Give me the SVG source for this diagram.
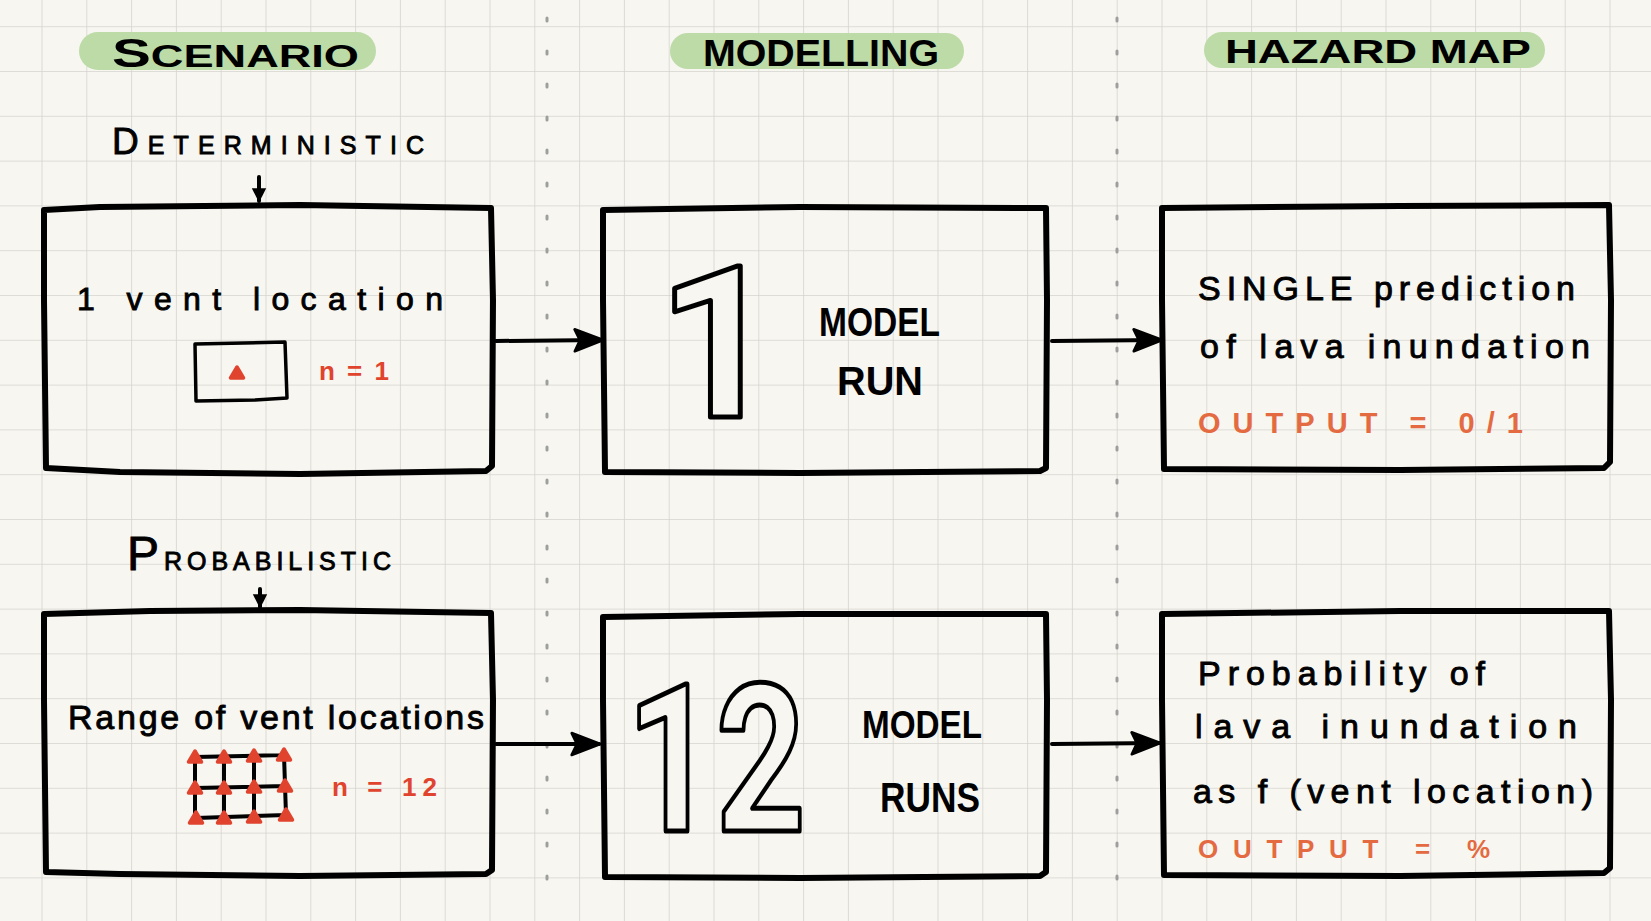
<svg xmlns="http://www.w3.org/2000/svg" width="1651" height="921" viewBox="0 0 1651 921">
<defs>
<pattern id="grid" patternUnits="userSpaceOnUse" x="41.5" y="26.2" width="44.8" height="44.8">
<path d="M0,0 H44.8 M0,0 V44.8" fill="none" stroke="#d6d4cd" stroke-width="1.6"/>
</pattern>
<marker id="ah" viewBox="0 0 12 10" refX="11" refY="5" markerWidth="8.5" markerHeight="6.5" orient="auto" markerUnits="strokeWidth">
<path d="M0.5,0.8 L11.5,5 L0.5,9.2 L2.5,5 Z" fill="#000" stroke="#000" stroke-width="1" stroke-linejoin="round"/>
</marker>
<marker id="ahs" viewBox="0 0 10 10" refX="8" refY="5" markerWidth="4" markerHeight="4" orient="auto" markerUnits="strokeWidth">
<path d="M0,0.5 L9,5 L0,9.5 Z" fill="#000"/>
</marker>
<path id="tri" d="M0,-6 L6.5,5 L-6.5,5 Z" fill="#e0442e" stroke="#e0442e" stroke-width="3.5" stroke-linejoin="round"/>
</defs>
<style>
.box{fill:none;stroke:#000;stroke-width:6;stroke-linejoin:round;stroke-linecap:round}
.hl{fill:#bcdba7}
.head{font-family:"Liberation Sans",Arial,sans-serif;font-weight:bold;fill:#000}
.hand{font-family:"Liberation Sans",Arial,sans-serif;fill:#000;stroke:#000;stroke-width:0.9}
.caps{font-family:"Liberation Sans",Arial,sans-serif;font-weight:bold;fill:#000}
.red{font-family:"Liberation Sans",Arial,sans-serif;font-weight:bold;fill:#e0442e}
.org{font-family:"Liberation Sans",Arial,sans-serif;font-weight:bold;fill:#e46a42}
.big{font-family:Roboto,"Liberation Sans",sans-serif;font-weight:bold;fill:#f7f6f1;stroke:#000;stroke-width:5;stroke-linejoin:round}
.conn{fill:none;stroke:#000;stroke-width:4;stroke-linecap:round}
.sep{fill:none;stroke:#9e9e9e;stroke-width:3;stroke-linecap:round;stroke-dasharray:3 30}
.mesh{fill:none;stroke:#000;stroke-width:4;stroke-linecap:round}
</style>
<rect width="1651" height="921" fill="#f7f6f1"/>
<rect width="1651" height="921" fill="url(#grid)"/>
<path class="sep" d="M547,18 V885"/>
<path class="sep" d="M1117,18 V885"/>

<g id="header-scenario">
<rect class="hl" x="79" y="32" width="297" height="38" rx="19"/>
<text class="head" x="112" y="67" font-size="31" textLength="247" lengthAdjust="spacingAndGlyphs"><tspan font-size="40">S</tspan>CENARIO</text>
</g>
<g id="header-modelling">
<rect class="hl" x="670" y="33" width="294" height="36" rx="18"/>
<text class="head" x="703" y="66" font-size="37" textLength="236" lengthAdjust="spacingAndGlyphs">MODELLING</text>
</g>
<g id="header-hazard">
<rect class="hl" x="1204" y="32" width="341" height="36" rx="18"/>
<text class="head" x="1225" y="63" font-size="34" textLength="306" lengthAdjust="spacingAndGlyphs">HAZARD MAP</text>
</g>

<g id="label-deterministic">
<text class="hand" x="112" y="154" font-size="25" textLength="312" lengthAdjust="spacing"><tspan font-size="37">D</tspan>ETERMINISTIC</text>
</g>
<g id="label-probabilistic">
<text class="hand" x="127" y="570" font-size="25" textLength="264" lengthAdjust="spacing"><tspan font-size="48">P</tspan>ROBABILISTIC</text>
</g>

<g id="connectors">
<path class="conn" d="M259,177 V201" marker-end="url(#ahs)"/>
<path class="conn" d="M260,589 V607" marker-end="url(#ahs)"/>
<path class="conn" d="M496,341 L602,340" marker-end="url(#ah)"/>
<path class="conn" d="M1052,341 L1161,340" marker-end="url(#ah)"/>
<path class="conn" d="M496,744 L599,744" marker-end="url(#ah)"/>
<path class="conn" d="M1052,744 L1159,743" marker-end="url(#ah)"/>
</g>

<g id="box-deterministic">
<path class="box" d="M44,210 L100,207 L300,205 L491,208 L493,300 L492,466 L486,471 L300,474 L120,472 L46,468 L44,300 Z"/>
<text class="hand" x="77" y="310" font-size="32" textLength="366" lengthAdjust="spacing">1 vent location</text>
<path d="M195,344 L285,342 L287,398 L255,400 L196,401 Z" fill="none" stroke="#000" stroke-width="3.5" stroke-linejoin="round"/>
<use href="#tri" x="237" y="373"/>
<text class="red" x="319" y="380" font-size="26" textLength="70" lengthAdjust="spacing">n=1</text>
</g>

<g id="box-model-run">
<path class="box" d="M603,210 L800,207 L1046,208 L1047,300 L1046,468 L1040,471 L800,473 L605,472 L603,300 Z"/>
<text class="big" x="718" y="417" font-size="212" text-anchor="middle">1</text>
<text class="caps" x="819" y="336" font-size="40" textLength="121" lengthAdjust="spacingAndGlyphs">MODEL</text>
<text class="caps" x="837" y="395" font-size="40" textLength="86" lengthAdjust="spacingAndGlyphs">RUN</text>
</g>

<g id="box-single">
<path class="box" d="M1162,208 L1400,206 L1609,205 L1611,300 L1610,462 L1604,468 L1400,470 L1164,469 L1162,300 Z"/>
<text class="hand" x="1198" y="300" font-size="34" textLength="377" lengthAdjust="spacing">SINGLE prediction</text>
<text class="hand" x="1200" y="358" font-size="34" textLength="390" lengthAdjust="spacing">of lava inundation</text>
<text class="org" x="1198" y="433" font-size="29" textLength="325" lengthAdjust="spacing">OUTPUT = 0/1</text>
</g>

<g id="box-probabilistic">
<path class="box" d="M44,614 L150,611 L300,610 L491,613 L493,700 L492,870 L486,874 L300,876 L120,874 L46,872 L44,700 Z"/>
<text class="hand" x="68" y="729" font-size="34" textLength="416" lengthAdjust="spacing">Range of vent locations</text>
<path class="mesh" d="M195,757 L284,755 M195,788 L285,786 M196,818 L286,815 M195,757 V818 M224,757 V818 M254,756 V817 M284,755 L286,815"/>
<use href="#tri" x="195" y="757"/>
<use href="#tri" x="224" y="757"/>
<use href="#tri" x="254" y="756"/>
<use href="#tri" x="284" y="755"/>
<use href="#tri" x="195" y="788"/>
<use href="#tri" x="224" y="788"/>
<use href="#tri" x="254" y="787"/>
<use href="#tri" x="285" y="786"/>
<use href="#tri" x="196" y="818"/>
<use href="#tri" x="224" y="818"/>
<use href="#tri" x="254" y="817"/>
<use href="#tri" x="286" y="815"/>
<text class="red" x="332" y="796" font-size="26" textLength="105" lengthAdjust="spacing">n = 12</text>
</g>

<g id="box-model-runs">
<path class="box" d="M603,617 L800,614 L1046,614 L1047,700 L1046,872 L1040,876 L800,878 L605,877 L603,700 Z"/>
<text class="big" transform="translate(716,831) scale(0.76,1)" x="0" y="0" font-size="206" text-anchor="middle">12</text>
<text class="caps" x="862" y="738" font-size="38" textLength="120" lengthAdjust="spacingAndGlyphs">MODEL</text>
<text class="caps" x="880" y="812" font-size="42" textLength="100" lengthAdjust="spacingAndGlyphs">RUNS</text>
</g>

<g id="box-probability">
<path class="box" d="M1162,614 L1400,611 L1609,611 L1611,700 L1610,868 L1604,873 L1400,876 L1164,875 L1162,700 Z"/>
<text class="hand" x="1198" y="685" font-size="34" textLength="287" lengthAdjust="spacing">Probability of</text>
<text class="hand" x="1195" y="738" font-size="34" textLength="382" lengthAdjust="spacing">lava inundation</text>
<text class="hand" x="1193" y="803" font-size="34" textLength="400" lengthAdjust="spacing">as f (vent location)</text>
<text class="org" x="1198" y="858" font-size="26" textLength="292" lengthAdjust="spacing">OUTPUT = %</text>
</g>
</svg>
